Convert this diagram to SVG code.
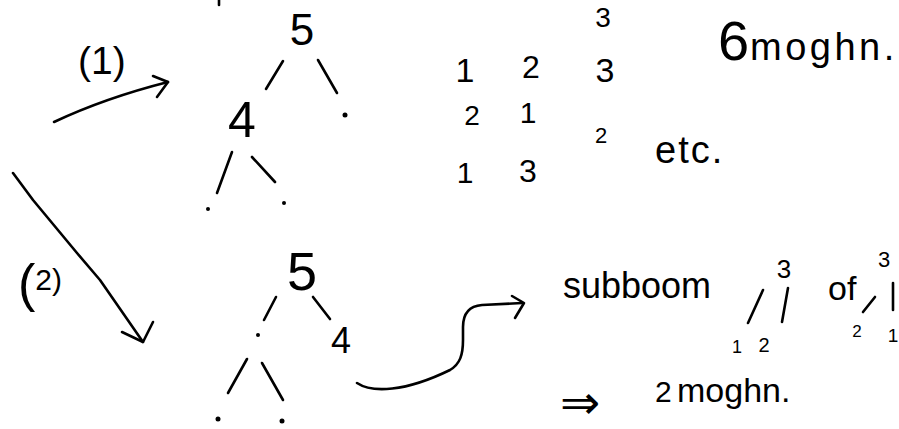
<svg xmlns="http://www.w3.org/2000/svg" width="899" height="429" viewBox="0 0 899 429">
<style>
text{font-family:"Liberation Sans","DejaVu Sans",sans-serif;fill:#000}
.c{text-anchor:middle}
.e{stroke:#000;stroke-width:2.6;fill:none;stroke-linecap:round;stroke-linejoin:round}
.d{fill:#000}
</style>
<rect width="899" height="429" fill="#fff"/>
<g id="connectors" class="e">
<path d="M219,0 L219,5"/>
<path d="M54,122 Q105,98 168,82"/>
<path d="M153,76 L168,82 L157,97"/>
<path d="M13,173 L33,200 L77,253 L100,280 L143,342"/>
<path d="M122,332 L143,342 L153,322"/>
<path d="M357,383 C372,393 405,392 450,370 C460,364 463,355 463,340 L463,327 C463,312 470,306 482,305 L522,303"/>
<path d="M512,296 L524,303 L515,318"/>
</g>
<g id="label1"><text x="78" y="74" font-size="39">(1)</text></g>
<g id="label2"><text x="18" y="301" font-size="52">(<tspan font-size="30" y="290">2)</tspan></text></g>
<g id="tree1" class="e">
<path d="M283,61 L266,89"/><path d="M318,60 L337,93"/>
<path d="M232,152 L217,193"/><path d="M252,157 L275,182"/>
</g>
<g id="t1-root"><text class="c" x="302" y="45" font-size="44">5</text></g>
<g id="t1-left"><text class="c" x="242" y="137" font-size="50">4</text></g>
<g id="t1-right"><circle class="d" cx="345" cy="115" r="2.5"/></g>
<g id="t1-ll"><circle class="d" cx="208" cy="209" r="2"/></g>
<g id="t1-lr"><circle class="d" cx="284" cy="203" r="2"/></g>
<g id="table">
<text class="c" x="603" y="27" font-size="28">3</text>
<text class="c" x="465" y="82" font-size="34">1</text>
<text class="c" x="531" y="78" font-size="32">2</text>
<text class="c" x="605" y="82" font-size="34">3</text>
<text class="c" x="472" y="125" font-size="28">2</text>
<text class="c" x="528" y="123" font-size="30">1</text>
<text class="c" x="601" y="143" font-size="22">2</text>
<text class="c" x="465" y="183" font-size="30">1</text>
<text class="c" x="528" y="182" font-size="32">3</text>
</g>
<g id="etc"><text x="655" y="163" font-size="38" letter-spacing="2">etc.</text></g>
<g id="count1"><text x="718" y="60" font-size="56">6</text><text x="750" y="60" font-size="38" letter-spacing="3.5">moghn.</text></g>
<g id="tree2" class="e">
<path d="M276,297 L264,320"/><path d="M313,297 L330,319"/>
<path d="M247,359 L228,393"/><path d="M262,363 L283,400"/>
</g>
<g id="t2-root"><text class="c" x="302" y="290" font-size="54">5</text></g>
<g id="t2-left"><circle class="d" cx="258" cy="335" r="2"/></g>
<g id="t2-right"><text class="c" x="341" y="353" font-size="36">4</text></g>
<g id="t2-ll"><circle class="d" cx="218" cy="419" r="2.5"/></g>
<g id="t2-lr"><circle class="d" cx="282" cy="421" r="2.5"/></g>
<g id="subboom"><text x="563" y="298" font-size="36">subboom</text></g>
<g id="sub1">
<text class="c" x="784" y="278" font-size="26">3</text>
<path class="e" d="M763,290 L748,323"/><path class="e" d="M788,288 L782,322"/>
<text class="c" x="737" y="353" font-size="18">1</text>
<text class="c" x="764" y="352" font-size="20">2</text>
</g>
<g id="of"><text x="828" y="300" font-size="34">of</text></g>
<g id="sub2">
<text class="c" x="884" y="267" font-size="22">3</text>
<path class="e" d="M875,297 L863,312"/><path class="e" d="M893,283 L893,310"/>
<text class="c" x="857" y="337" font-size="17">2</text>
<text class="c" x="893" y="342" font-size="19">1</text>
</g>
<g id="result">
<text x="560" y="419" font-size="48" font-family="DejaVu Sans">⇒</text>
<text x="655" y="402" font-size="30">2</text>
<text x="677" y="402" font-size="34">moghn.</text>
</g>
</svg>
